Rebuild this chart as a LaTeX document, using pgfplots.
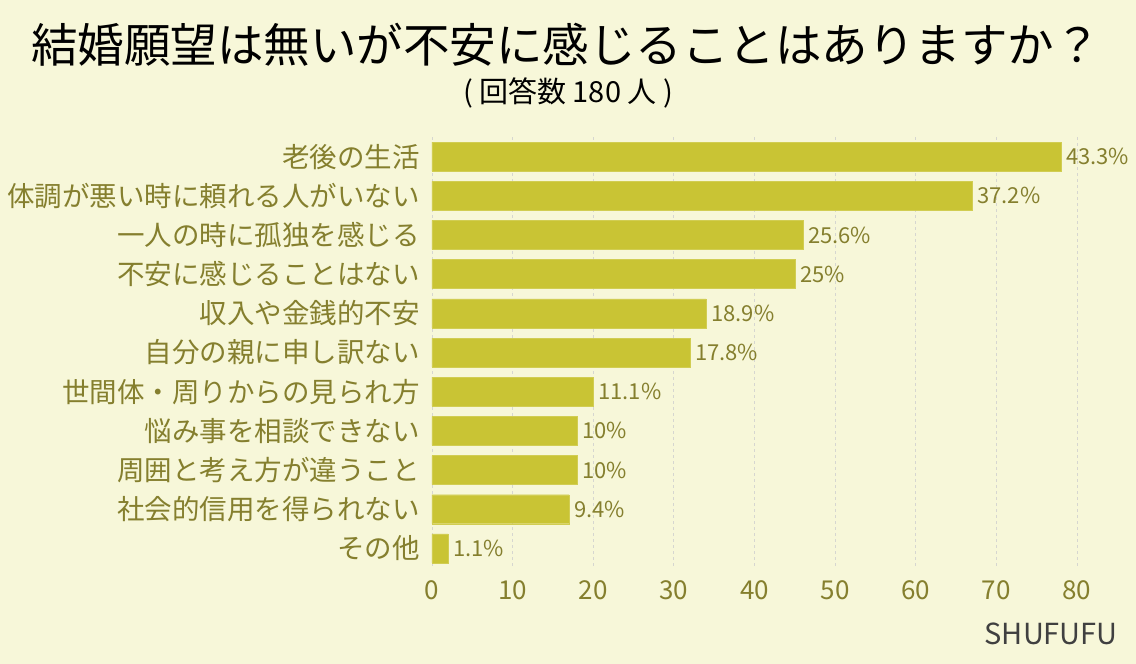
\documentclass[border=0pt]{standalone}
\usepackage{fontspec}
\setmainfont{Noto Sans CJK JP}
\usepackage{pgfplots}
\pgfplotsset{compat=1.18}

\definecolor{bgc}{HTML}{F7F7D9}
\definecolor{barc}{HTML}{C9C434}
\definecolor{txtc}{HTML}{857F2E}
\definecolor{gridc}{HTML}{D6D6D0}

\begin{document}
\begin{tikzpicture}
\fill[bgc] (0,0) rectangle (1136pt,-664pt);
\node[font=\fontsize{46.5}{50}\selectfont] at (566pt,-45pt) {結婚願望は無いが不安に感じることはありますか？};
\node[font=\fontsize{29}{32}\selectfont] at (568pt,-93pt) {(\ 回答数 180 人\ )};
\node[anchor=south east, inner sep=0pt, text=black!75, font=\fontsize{29}{32}\selectfont] at (1118pt,-645pt) {SHUFUFU};

\begin{axis}[
    at={(432pt,-568pt)}, anchor=south west,
    scale only axis, width=645pt, height=431pt,
    xbar, bar width=29pt, bar shift=0pt,
    xmin=0, xmax=80, ymin=-0.5, ymax=10.5,
    y dir=reverse,
    xtick={0,10,...,80},
    ytick={0,...,10},
    yticklabels={老後の生活, 体調が悪い時に頼れる人がいない, 一人の時に孤独を感じる, 不安に感じることはない, 収入や金銭的不安, 自分の親に申し訳ない, 世間体・周りからの見られ方, 悩み事を相談できない, 周囲と考え方が違うこと, 社会的信用を得られない, その他},
    axis line style={draw=none},
    major tick length=0pt,
    xmajorgrids, grid style={gridc, dashed, line width=0.9pt},
    /pgf/number format/assume math mode=true,
    yticklabel style={inner sep=0pt, anchor=east, xshift=-12pt, text=txtc, font=\fontsize{27.5}{30}\selectfont},
    xticklabel style={inner sep=0pt, anchor=north, yshift=-12.5pt, text=txtc, font=\fontsize{26}{30}\selectfont},
    point meta=explicit symbolic,
    nodes near coords,
    nodes near coords style={anchor=west, inner sep=0pt, xshift=5pt, text=txtc, font=\fontsize{22}{24}\selectfont},
]
\addplot[fill=barc, draw=barc!85!white] coordinates {
    (78,0) [43.3\%]
    (67,1) [37.2\%]
    (46,2) [25.6\%]
    (45,3) [25\%]
    (34,4) [18.9\%]
    (32,5) [17.8\%]
    (20,6) [11.1\%]
    (18,7) [10\%]
    (18,8) [10\%]
    (17,9) [9.4\%]
    (2,10) [1.1\%]
};
\end{axis}
\end{tikzpicture}
\end{document}
